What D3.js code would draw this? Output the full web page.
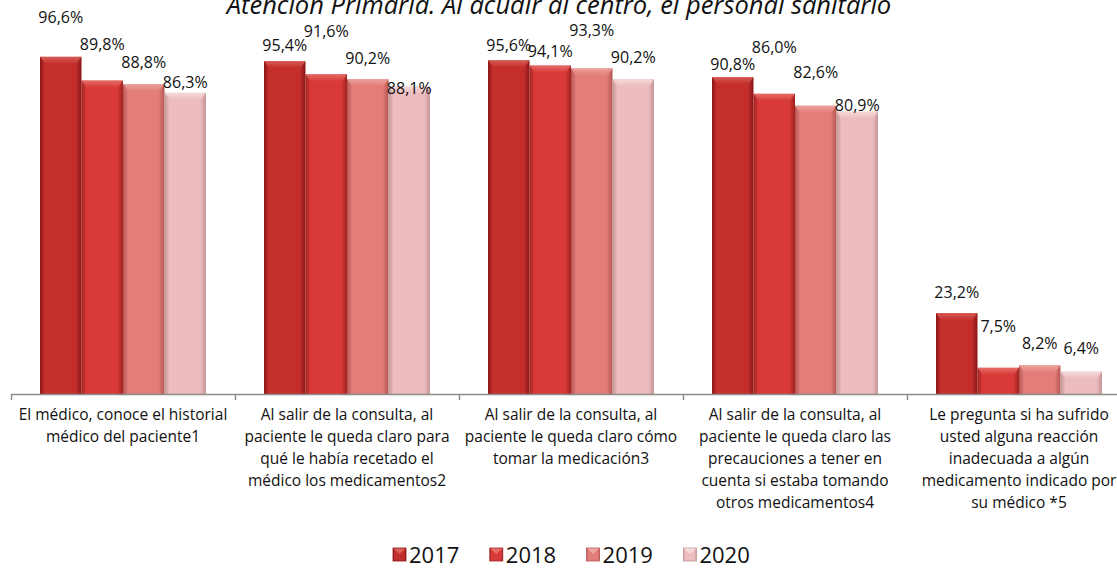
<!DOCTYPE html>
<html>
<head>
<meta charset="utf-8">
<script src="https://cdn.jsdelivr.net/npm/d3@7"></script>
<style>
  html, body { margin: 0; padding: 0; background: #ffffff; }
  svg { display: block; }
  text { font-family: "Open Sans", "Noto Sans", sans-serif; fill: #111; }
</style>
</head>
<body>
<svg id="chart" width="1117" height="569"></svg>
<script>
// Survey items (each line of a label is a separate entry)
const categories = [
  ["El médico, conoce el historial", "médico del paciente1"],
  ["Al salir de la consulta, al", "paciente le queda claro para", "qué le había recetado el", "médico los medicamentos2"],
  ["Al salir de la consulta, al", "paciente le queda claro cómo", "tomar la medicación3"],
  ["Al salir de la consulta, al", "paciente le queda claro las", "precauciones a tener en", "cuenta si estaba tomando", "otros medicamentos4"],
  ["Le pregunta si ha sufrido", "usted alguna reacción", "inadecuada a algún", "medicamento indicado por", "su médico *5"]
];
const years = ["2017", "2018", "2019", "2020"];
const values2017 = [96.6, 95.4, 95.6, 90.8, 23.2];
const values2018 = [89.8, 91.6, 94.1, 86.0, 7.5];
const values2019 = [88.8, 90.2, 93.3, 82.6, 8.2];
const values2020 = [86.3, 88.1, 90.2, 80.9, 6.4];
const titleText = "Atención Primaria. Al acudir al centro, el personal sanitario";

// Vertical lift of each value label above its bar top (px), per category then year
const labelLift = [
  [39, 36, 22, 10],
  [16, 43, 21, -2],
  [15, 14, 38, 22],
  [13, 46, 33, 6],
  [21, 41, 22, 23]
];

const series = [values2017, values2018, values2019, values2020];
const palette = [
  { body: "#c42f2c", edge: "#8a1616", top: "#d9605a" },
  { body: "#d83a38", edge: "#a02222", top: "#e8706a" },
  { body: "#e27d78", edge: "#b45654", top: "#eea6a1" },
  { body: "#ecbcbe", edge: "#c49497", top: "#f6dcdd" }
];

const svg = d3.select("#chart");
const defs = svg.append("defs");

palette.forEach((c, i) => {
  const g = defs.append("linearGradient").attr("id", "bar" + i)
    .attr("x1", "0").attr("x2", "1").attr("y1", "0").attr("y2", "0");
  g.append("stop").attr("offset", "0").attr("stop-color", c.edge);
  g.append("stop").attr("offset", "0.12").attr("stop-color", c.body);
  g.append("stop").attr("offset", "0.5").attr("stop-color", c.body);
  g.append("stop").attr("offset", "0.86").attr("stop-color", c.body);
  g.append("stop").attr("offset", "1").attr("stop-color", c.edge);
  const t = defs.append("linearGradient").attr("id", "cap" + i)
    .attr("x1", "0").attr("x2", "0").attr("y1", "0").attr("y2", "1");
  t.append("stop").attr("offset", "0").attr("stop-color", c.top);
  t.append("stop").attr("offset", "1").attr("stop-color", c.body);
});

const x = d3.scaleBand().domain(d3.range(categories.length)).range([11, 1131]).padding(0);
const xs = d3.scaleBand().domain(years).range([29, 195]).padding(0);
const y = d3.scaleLinear().domain([0, 100]).range([394, 45]);

// Title (partly clipped at the top edge)
svg.append("text")
  .attr("x", 559).attr("y", 14)
  .attr("text-anchor", "middle")
  .style("font-size", "25.5px").style("font-style", "italic")
  .text(titleText);

// Bars
const groups = svg.append("g").selectAll("g")
  .data(categories.map((c, i) => i))
  .join("g")
  .attr("transform", i => `translate(${x(i)},0)`);

const cells = groups.selectAll("g.bar")
  .data(ci => years.map((yr, si) => ({ ci, si, yr, v: series[si][ci] })))
  .join("g").attr("class", "bar");

cells.append("rect")
  .attr("x", d => xs(d.yr))
  .attr("y", d => y(d.v))
  .attr("width", xs.bandwidth())
  .attr("height", d => y(0) - y(d.v))
  .attr("fill", d => `url(#bar${d.si})`);

// bevelled top
cells.append("path")
  .attr("d", d => {
    const x0 = xs(d.yr), x1 = x0 + xs.bandwidth(), t = y(d.v), h = 7;
    return `M${x0},${t}L${x1},${t}L${x1 - 5},${t + h}L${x0 + 5},${t + h}Z`;
  })
  .attr("fill", d => `url(#cap${d.si})`)
  .attr("opacity", 0.9);

// Value labels
cells.append("text")
  .attr("x", d => xs(d.yr) + xs.bandwidth() / 2)
  .attr("y", d => y(d.v) - labelLift[d.ci][d.si])
  .attr("dy", "0.35em")
  .attr("text-anchor", "middle")
  .style("font-size", "16px")
  .text(d => d.v.toFixed(1).replace(".", ",") + "%");

// Category axis
const axis = svg.append("g");
axis.append("line")
  .attr("x1", x.range()[0]).attr("x2", 1117)
  .attr("y1", y(0) + 0.5).attr("y2", y(0) + 0.5)
  .attr("stroke", "#8c8c8c").attr("stroke-width", 1.5);
axis.selectAll("line.tick")
  .data(x.domain())
  .join("line").attr("class", "tick")
  .attr("x1", i => x(i) + 0.5).attr("x2", i => x(i) + 0.5)
  .attr("y1", y(0)).attr("y2", y(0) + 6)
  .attr("stroke", "#8c8c8c").attr("stroke-width", 1.5);

axis.selectAll("text.cat")
  .data(categories)
  .join("text").attr("class", "cat")
  .attr("text-anchor", "middle")
  .style("font-size", "15.5px")
  .each(function (lines, i) {
    d3.select(this).selectAll("tspan")
      .data(lines)
      .join("tspan")
      .attr("x", x(i) + x.bandwidth() / 2)
      .attr("y", (l, k) => 420 + k * 22)
      .text(l => l);
  });

// Legend
const legend = svg.append("g").attr("transform", "translate(393,548)");
const item = legend.selectAll("g")
  .data(years)
  .join("g")
  .attr("transform", (d, i) => `translate(${i * 96.8},0)`);
item.append("rect")
  .attr("width", 13).attr("height", 13)
  .attr("fill", (d, i) => `url(#bar${i})`)
  .attr("stroke", (d, i) => palette[i].edge).attr("stroke-width", 0.8);
item.append("path")
  .attr("d", "M0.5,0.5L12.5,0.5L6.5,6Z")
  .attr("fill", (d, i) => palette[i].top);
item.append("text")
  .attr("x", 16).attr("y", 7).attr("dy", "0.36em")
  .style("font-size", "22px")
  .text(d => d);
</script>
</body>
</html>
